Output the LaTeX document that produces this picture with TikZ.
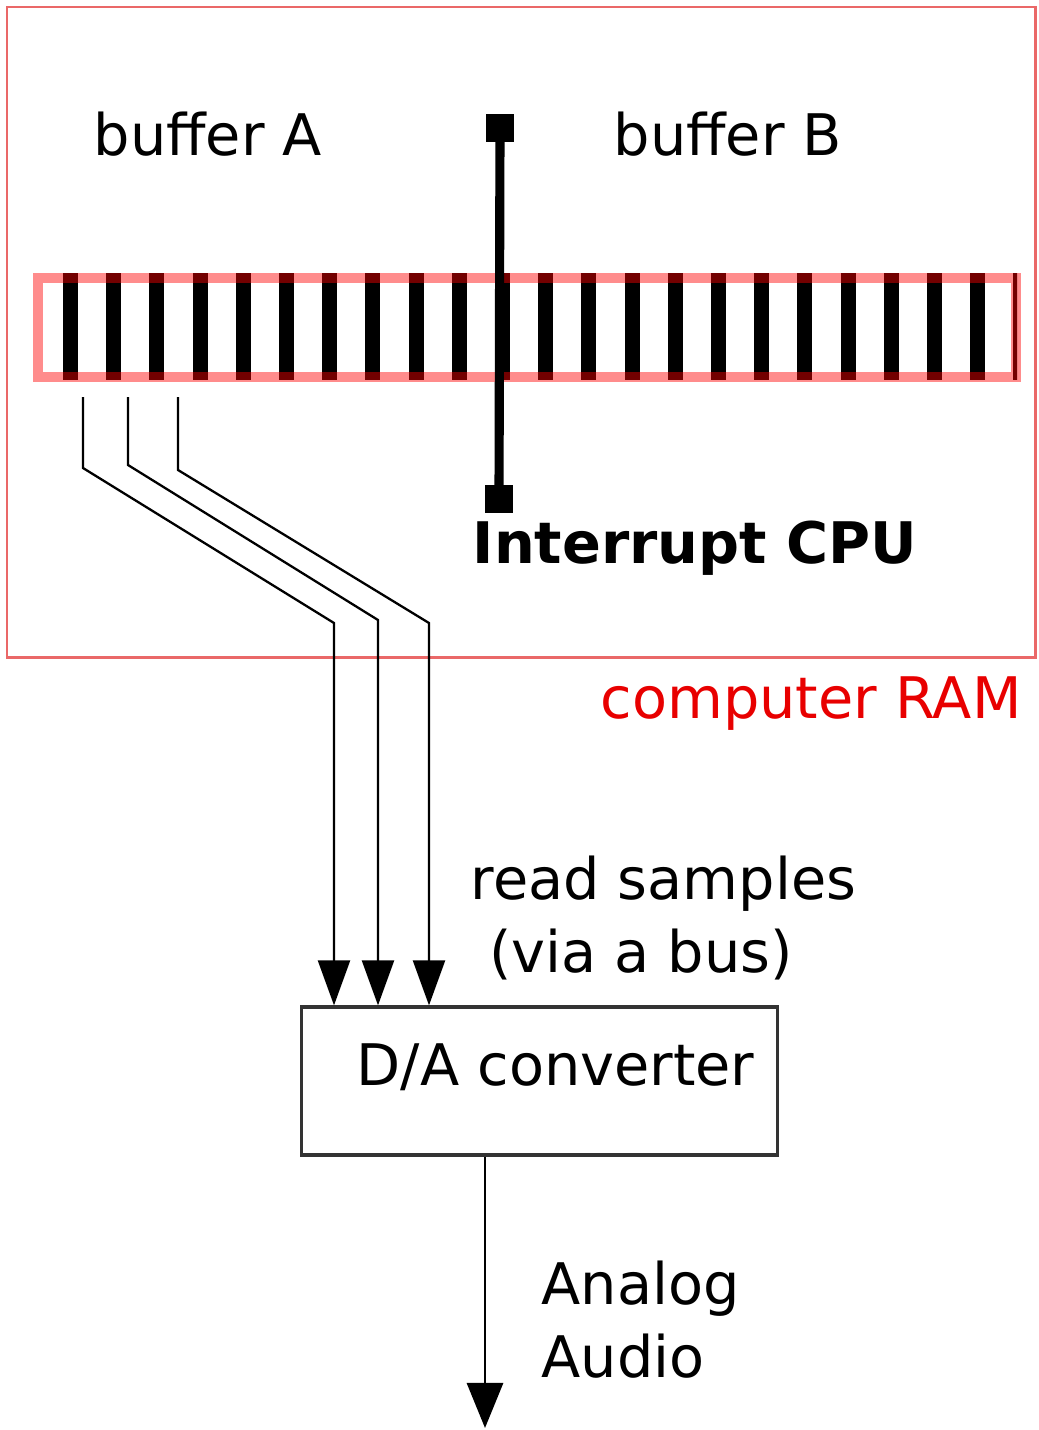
\documentclass[tikz,border=0pt]{standalone}
\usepackage{fontspec}
\setmainfont{DejaVu Sans}
\usepackage{xcolor}
\usetikzlibrary{positioning, calc, arrows.meta}
\definecolor{ramred}{RGB}{234,104,104}
\definecolor{ramtext}{RGB}{232,0,0}

\begin{document}
\begin{tikzpicture}[
    x=0.01cm, y=-0.01cm,
    font=\fontsize{16.3}{20.5}\selectfont,
    lbl/.style={inner sep=0pt, anchor=base west, align=left},
    ram/.style={draw=ramred, line width=0.85pt},
    strip/.style={draw=red, draw opacity=0.45, line width=2.8pt},
    marker/.style={rectangle, fill=black, minimum size=0.27cm, inner sep=0pt},
    bus/.style={-{Triangle[width=0.32cm, length=0.45cm]}, line width=0.65pt},
    converter/.style={rectangle, draw=black!80, line width=0.9pt, minimum width=4.75cm, minimum height=1.48cm, inner sep=0pt},
    audioline/.style={-{Triangle[width=0.36cm, length=0.45cm]}, line width=0.8pt}
]
    \useasboundingbox (0,0) rectangle (1038,1430);

    % Computer RAM
    \draw[ram] (7,7) rectangle (1035,657);
    \node[lbl, text=ramtext] (ramlabel) at (600,718) {computer RAM};
    \node[lbl] (bufa) at (93,155) {buffer A};
    \node[lbl] (bufb) at (613,155) {buffer B};

    % Sample strip
    \begin{scope}
        \clip (36,270) rectangle (1017,385);
        \foreach \k in {0,...,22}
            \fill ({63+43.2*\k},273) rectangle ++(15,107);
    \end{scope}
    \draw[strip] (38,278) rectangle (1016,377);

    % Interrupt marker
    \node[marker] (cputop) at (500,128) {};
    \node[marker] (cpubot) at (499,499) {};
    \draw[line width=2.6pt] (cputop) -- (cpubot);
    \node[lbl, font=\fontsize{16.3}{20.5}\selectfont\bfseries] (irq) at (472,563) {Interrupt CPU};

    % D/A converter
    \node[converter] (dac) at (539.5,1081) {};
    \node[lbl] (dactext) at (356,1085) {D/A converter};

    % Bus lines
    \foreach \i/\sx/\ky/\ex/\ey in {1/83/468/334/623, 2/128/465/378/620, 3/178/470/429/623} {
        \coordinate (tap\i) at (\sx,397);
        \coordinate (knee\i) at (\ex,\ey);
        \draw[bus] (tap\i) -- (\sx,\ky) -- (knee\i) -- (knee\i |- dac.north);
    }
    \node[lbl] (busnote) at (470,972) {read samples\\\hspace*{0.32em}(via a bus)};

    % Output
    \coordinate (speaker) at (485,1428);
    \draw[audioline] (dac.south -| speaker) -- (speaker);
    \node[lbl] (audio) at (541,1377) {Analog\\Audio};
\end{tikzpicture}
\end{document}
